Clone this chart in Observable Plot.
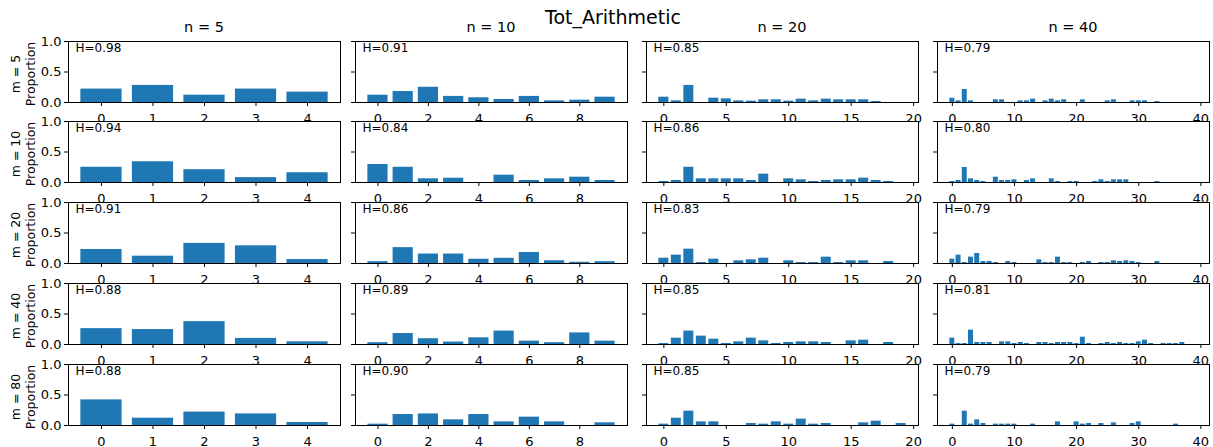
<!DOCTYPE html>
<html><head><meta charset="utf-8">
<script src="https://cdn.jsdelivr.net/npm/d3@7"></script>
<script src="https://cdn.jsdelivr.net/npm/@observablehq/plot@0.6"></script>
<style>
body{margin:0;background:#fff;font-family:"DejaVu Sans",sans-serif;}
#fig{position:relative;width:1213px;height:447px;overflow:hidden;background:#fff;}
.lbl{position:absolute;white-space:nowrap;transform:translate(-50%,-50%);color:#000;}
.panel{position:absolute;}
</style></head><body><div id="fig"></div>
<script>
const chartTitle = "Tot_Arithmetic";
const nValues = [5, 10, 20, 40];
const mValues = [5, 10, 20, 40, 80];
const xTicks = [[0,1,2,3,4],[0,2,4,6,8],[0,5,10,15,20],[0,10,20,30,40]];
const yTicks = [0, 0.5, 1];

// entropy labels, rows = m, columns = n
const entropy = [
  [0.98, 0.91, 0.85, 0.79],
  [0.94, 0.84, 0.86, 0.80],
  [0.91, 0.86, 0.83, 0.79],
  [0.88, 0.89, 0.85, 0.81],
  [0.88, 0.90, 0.85, 0.79]
];

// n = 5
const m5_n5  = [0.22, 0.28, 0.12, 0.22, 0.17];
const m10_n5 = [0.25, 0.34, 0.21, 0.08, 0.16];
const m20_n5 = [0.23, 0.12, 0.33, 0.29, 0.065];
const m40_n5 = [0.26, 0.245, 0.375, 0.10, 0.044];
const m80_n5 = [0.42, 0.12, 0.22, 0.19, 0.05];

// n = 10
const m5_n10  = [0.12, 0.18, 0.25, 0.10, 0.077, 0.05, 0.10, 0.027, 0.038, 0.087];
const m10_n10 = [0.295, 0.25, 0.06, 0.07, 0, 0.12, 0.033, 0.06, 0.087, 0.033];
const m20_n10 = [0.03, 0.26, 0.155, 0.155, 0.07, 0.085, 0.18, 0.045, 0.02, 0.03];
const m40_n10 = [0.03, 0.18, 0.095, 0.04, 0.11, 0.22, 0.055, 0.03, 0.19, 0.055];
const m80_n10 = [0.022, 0.18, 0.19, 0.093, 0.18, 0.06, 0.137, 0.06, 0, 0.044];

// n = 20
const m5_n20  = [0.087,0.027,0.28,0,0.071,0.06,0.027,0.022,0.044,0.044,0.022,0.055,0.027,0.055,0.044,0.044,0.044,0.016,0,0];
const m10_n20 = [0.016,0.033,0.25,0.06,0.06,0.06,0.06,0.033,0.137,0,0.06,0.044,0.016,0.033,0.044,0.044,0.071,0.033,0.016,0];
const m20_n20 = [0.087,0.137,0.235,0.016,0.071,0,0.044,0.06,0.087,0,0.044,0.016,0.016,0.104,0.016,0.044,0.044,0,0.033,0];
const m40_n20 = [0.016,0.104,0.22,0.137,0.087,0.016,0.044,0.104,0.06,0.016,0.033,0.044,0.044,0.033,0,0.06,0.071,0,0.033,0];
const m80_n20 = [0.022,0.12,0.235,0.06,0.06,0,0,0.033,0.022,0.06,0.022,0.104,0.022,0.033,0,0,0.044,0.071,0,0.033];

// n = 40
const m5_n40  = [0.071,0.027,0.213,0.027,0,0,0,0.044,0.044,0,0,0.027,0.027,0.055,0,0.027,0.055,0.027,0.044,0,
                 0,0.044,0,0,0,0.027,0.044,0,0,0.027,0.027,0.027,0,0.016,0,0,0,0,0,0];
const m10_n40 = [0.016,0.033,0.246,0.06,0.033,0.016,0,0.087,0.033,0.033,0.044,0,0.033,0.06,0,0,0.06,0.016,0,0.016,
                 0.016,0,0,0.016,0.044,0.016,0.044,0.044,0.044,0,0,0,0,0.016,0,0,0,0,0,0];
const m20_n40 = [0.071,0.137,0.016,0.104,0.164,0.033,0.033,0.016,0,0.033,0.016,0,0,0,0.06,0.016,0.016,0.104,0.016,0.016,
                 0,0.016,0.033,0,0.016,0.016,0.044,0.033,0.044,0.033,0.016,0,0,0.033,0,0,0,0,0,0];
const m40_n40 = [0.104,0.016,0.016,0.235,0.033,0.033,0.033,0,0.044,0.044,0.016,0.033,0.016,0,0.033,0.033,0.016,0.033,0.033,0.033,
                 0.016,0.12,0.016,0,0.016,0.033,0.016,0.033,0.016,0.016,0.044,0.071,0.016,0,0.016,0.016,0.016,0.033,0,0];
const m80_n40 = [0.022,0,0.235,0.022,0.093,0.033,0,0.022,0.022,0.022,0.022,0,0,0.022,0,0,0,0.06,0,0,
                 0.06,0.022,0.033,0,0.033,0,0.044,0,0,0.033,0.06,0,0,0,0,0,0.022,0,0,0];

const grid = [
  [m5_n5,  m5_n10,  m5_n20,  m5_n40],
  [m10_n5, m10_n10, m10_n20, m10_n40],
  [m20_n5, m20_n10, m20_n20, m20_n40],
  [m40_n5, m40_n10, m40_n20, m40_n40],
  [m80_n5, m80_n10, m80_n20, m80_n40]
];

const fig = document.getElementById("fig");
const colLeft = [68, 355, 646, 937];
const PW = 272, PH = 61;
const rowTop = r => 40.5 + r * 80.9;
const BLUE = "#1f77b4";

function addLabel(text, x, y, size) {
  const d = document.createElement("div");
  d.className = "lbl";
  d.textContent = text;
  d.style.left = x + "px"; d.style.top = y + "px"; d.style.fontSize = size + "px";
  fig.appendChild(d);
}

addLabel(chartTitle, 613, 17, 19);
nValues.forEach((n, c) => addLabel(`n = ${n}`, colLeft[c] + PW / 2, 27, 14.5));

mValues.forEach((m, r) => {
  nValues.forEach((n, c) => {
    const vals = grid[r][c];
    const data = vals.map((v, i) => ({i, v})).filter(d => d.v > 0);
    const lo = -0.4, hi = n - 1 + 0.4, pad = 0.05 * (hi - lo);
    const ML = c === 0 ? 68 : 12, MR = 6, MT = 10, MB = 32;
    const marks = [
      Plot.frame({fill: "white", stroke: "none"}),
      Plot.rect(data, {x1: d => d.i - 0.4, x2: d => d.i + 0.4, y1: 0, y2: "v", fill: BLUE}),
      Plot.axisX({ticks: xTicks[c], tickSize: 4, tickPadding: 7, label: null, fontSize: 13, tickFormat: d => String(d)}),
      c === 0
        ? Plot.axisY({ticks: yTicks, tickSize: 4, tickPadding: 3, label: null, fontSize: 13, tickFormat: d3.format(".1f")})
        : Plot.axisY({ticks: yTicks, tickSize: 4, fill: "none", label: null}),
      Plot.frame({stroke: "#000", strokeWidth: 1}),
      Plot.text([`H=${entropy[r][c].toFixed(2)}`], {frameAnchor: "top-left", dx: 7, dy: 2, fontSize: 12, fill: "#000"})
    ];
    if (c === 0) {
      marks.push(Plot.text([`m = ${m}\nProportion`], {frameAnchor: "left", dx: -46, dy: 2, rotate: -90, textAnchor: "middle", lineAnchor: "middle", fontSize: 12.5, lineHeight: 1.2, fill: "#000"}));
    }
    const p = Plot.plot({
      width: PW + ML + MR, height: PH + MT + MB,
      marginLeft: ML, marginRight: MR, marginTop: MT, marginBottom: MB,
      style: {background: "transparent", fontFamily: "DejaVu Sans, sans-serif", fontSize: "12px", color: "#000", overflow: "visible"},
      x: {domain: [lo - pad, hi + pad]},
      y: {domain: [0, 1]},
      marks
    });
    p.classList.add("panel");
    p.style.left = (colLeft[c] - ML) + "px";
    p.style.top = (rowTop(r) - MT) + "px";
    p.style.maxWidth = "none";
    fig.appendChild(p);
  });
});
</script>
</body></html>
